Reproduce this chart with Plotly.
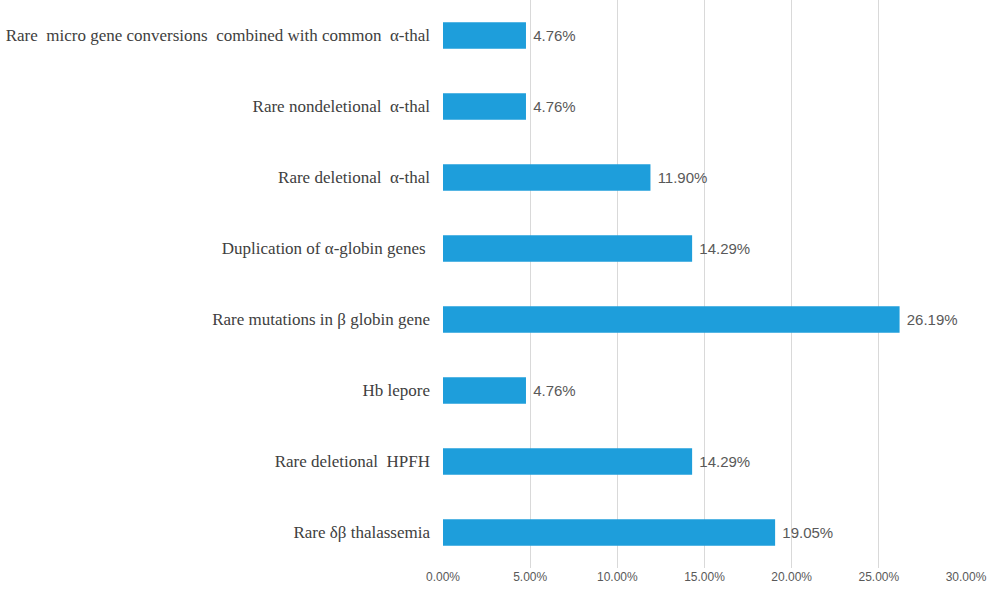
import plotly.graph_objects as go

categories = [
    "Rare δβ thalassemia",
    "Rare deletional  HPFH",
    "Hb lepore",
    "Rare mutations in β globin gene",
    "Duplication of α-globin genes ",
    "Rare deletional  α-thal",
    "Rare nondeletional  α-thal",
    "Rare  micro gene conversions  combined with common  α-thal",
]
values = [0.1905, 0.1429, 0.0476, 0.2619, 0.1429, 0.1190, 0.0476, 0.0476]
value_labels = ["19.05%", "14.29%", "4.76%", "26.19%", "14.29%", "11.90%", "4.76%", "4.76%"]
tick_vals = [0, 0.05, 0.10, 0.15, 0.20, 0.25, 0.30]

fig = go.Figure(go.Bar(
    y=categories,
    x=values,
    orientation="h",
    marker=dict(color="#1E9EDB", line=dict(width=0)),
    width=0.37,
    text=value_labels,
    texttemplate=" %{text}",
    textposition="outside",
    textfont=dict(family="Liberation Sans Narrow, Liberation Sans, sans-serif", size=15, color="#595959"),
    cliponaxis=False,
))

fig.update_layout(
    width=996, height=590,
    margin=dict(l=443, r=30, t=0, b=22),
    plot_bgcolor="white", paper_bgcolor="white",
    showlegend=False,
    xaxis=dict(
        range=[0, 0.30],
        tickvals=tick_vals,
        tickformat=".2%",
        showgrid=True, gridcolor="#D9D9D9", gridwidth=1,
        zeroline=False, showline=False,
        tickfont=dict(family="Liberation Sans Narrow, Liberation Sans, sans-serif", size=12, color="#595959"),
        ticks="", ticklen=0,
    ),
    yaxis=dict(
        showgrid=False, zeroline=False, showline=False,
        ticks="", ticklen=0,
        ticklabelstandoff=12,
        tickfont=dict(family="Liberation Serif, serif", size=17, color="#404040"),
        range=[-0.5, 7.5],
    ),
)

fig.write_html("out.html", config={"displayModeBar": False},
               post_script="document.body.style.margin='0';")
